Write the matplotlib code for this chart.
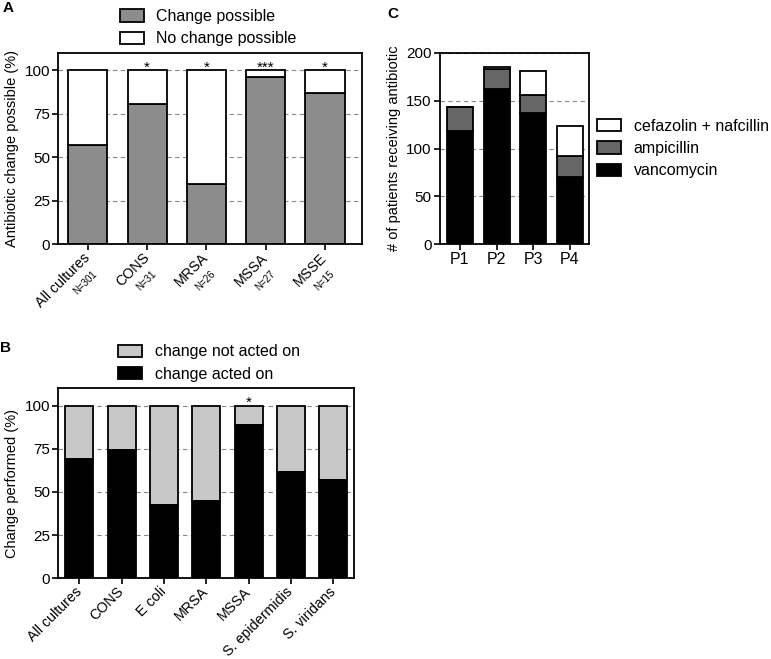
import numpy as np
import matplotlib
matplotlib.use('Agg')
import matplotlib.pyplot as plt
from matplotlib.transforms import ScaledTranslation

plt.rcParams['font.family'] = ['Liberation Sans', 'DejaVu Sans']
plt.rcParams['axes.linewidth'] = 1.3

# panel A
a_cats = ['All cultures', 'CONS', 'MRSA', 'MSSA', 'MSSE']
a_ns = ['N=301', 'N=31', 'N=26', 'N=27', 'N=15']
a_possible = [57, 80.6, 34.6, 96.3, 86.7]
a_stars = ['', '*', '*', '***', '*']

# panel B
b_cats = ['All cultures', 'CONS', 'E coli', 'MRSA', 'MSSA', 'S. epidermidis', 'S. viridans']
b_acted = [69.3, 74.5, 42.2, 44.9, 89.0, 61.8, 57.2]
b_stars = ['', '', '', '', '*', '', '']

# panel C
c_cats = ['P1', 'P2', 'P3', 'P4']
c_vanco = [118, 162, 137, 70]
c_ampi = [25, 21, 19, 22]
c_cefaz = [0, 2, 25, 32]

GRAY = '#8c8c8c'
LIGHT = '#c8c8c8'
DARK = '#666666'
EDGE = dict(edgecolor='black', linewidth=1.3)
LEG = dict(frameon=False, fontsize=11.5, handlelength=1.5, handleheight=0.8,
           borderpad=0.1, labelspacing=0.45, handletextpad=0.8)


def style_axes(ax):
    ax.tick_params(axis='both', direction='out', length=4, width=1.2, labelsize=11, pad=2)
    ax.yaxis.grid(True, linestyle=(0, (4, 3)), color='#888888', linewidth=0.8)
    ax.set_axisbelow(True)


def rotate_labels(fig, ax, labels):
    ax.set_xticklabels(labels, rotation=45, ha='right', rotation_mode='anchor', fontsize=10.3)
    shift = ScaledTranslation(-0.05, 0.02, fig.dpi_scale_trans)
    for lab in ax.get_xticklabels():
        lab.set_transform(lab.get_transform() + shift)


fig = plt.figure(figsize=(7.71, 6.59), dpi=100)

# ---- A
axA = fig.add_axes([0.0756, 0.6297, 0.3943, 0.2899])
x = np.arange(len(a_cats))
no_change = [100 - v for v in a_possible]
axA.bar(x, a_possible, width=0.66, color=GRAY, label='Change possible', **EDGE)
axA.bar(x, no_change, bottom=a_possible, width=0.66, color='white', label='No change possible', **EDGE)
axA.set_xlim(-0.5, 4.63)
axA.set_ylim(0, 110)
axA.set_yticks([0, 25, 50, 75, 100])
axA.set_xticks(x)
style_axes(axA)
rotate_labels(fig, axA, a_cats)
axA.set_ylabel('Antibiotic change possible (%)', fontsize=10.5)
for i, n in enumerate(a_ns):
    axA.annotate(n, xy=(i, 0), xycoords=('data', 'axes fraction'), xytext=(3.0, -18.0),
                 textcoords='offset points', rotation=45, ha='right', va='top',
                 rotation_mode='anchor', fontsize=7)
for i, s in enumerate(a_stars):
    if s:
        axA.text(i, 97.5, s, ha='center', va='bottom', fontsize=11)
axA.legend(loc='lower left', bbox_to_anchor=(0.17, 0.985), **LEG)

# ---- B
axB = fig.add_axes([0.0756, 0.1224, 0.3840, 0.2884])
xb = np.arange(len(b_cats))
not_acted = [100 - v for v in b_acted]
axB.bar(xb, not_acted, bottom=b_acted, width=0.66, color=LIGHT, label='change not acted on', **EDGE)
axB.bar(xb, b_acted, width=0.66, color='black', label='change acted on', **EDGE)
axB.set_xlim(-0.5, 6.5)
axB.set_ylim(0, 110)
axB.set_yticks([0, 25, 50, 75, 100])
axB.set_xticks(xb)
style_axes(axB)
rotate_labels(fig, axB, b_cats)
axB.set_ylabel('Change performed (%)', fontsize=10.5)
for i, s in enumerate(b_stars):
    if s:
        axB.text(i, 97.5, s, ha='center', va='bottom', fontsize=11)
axB.legend(loc='lower left', bbox_to_anchor=(0.17, 0.985), **LEG)

# ---- C
axC = fig.add_axes([0.5707, 0.6297, 0.1933, 0.2899])
xc = np.arange(len(c_cats))
bot2 = [v + a for v, a in zip(c_vanco, c_ampi)]
h_v = axC.bar(xc, c_vanco, width=0.71, color='black', **EDGE)
h_a = axC.bar(xc, c_ampi, bottom=c_vanco, width=0.71, color=DARK, **EDGE)
h_c = axC.bar(xc, c_cefaz, bottom=bot2, width=0.71, color='white', **EDGE)
axC.set_xlim(-0.54, 3.52)
axC.set_ylim(0, 200)
axC.set_yticks([0, 50, 100, 150, 200])
axC.set_xticks(xc)
axC.set_xticklabels(c_cats)
style_axes(axC)
axC.tick_params(axis='x', labelsize=11.5)
axC.set_ylabel('# of patients receiving antibiotic', fontsize=10.5)
axC.legend([h_c, h_a, h_v], ['cefazolin + nafcillin', 'ampicillin', 'vancomycin'],
           loc='center left', bbox_to_anchor=(0.99, 0.50), **LEG)

fig.text(0.004, 0.998, 'A', fontsize=11, fontweight='bold', va='top')
fig.text(0.0, 0.482, 'B', fontsize=11, fontweight='bold', va='top')
fig.text(0.502, 0.99, 'C', fontsize=11, fontweight='bold', va='top')

fig.savefig('out.png', dpi=100)
